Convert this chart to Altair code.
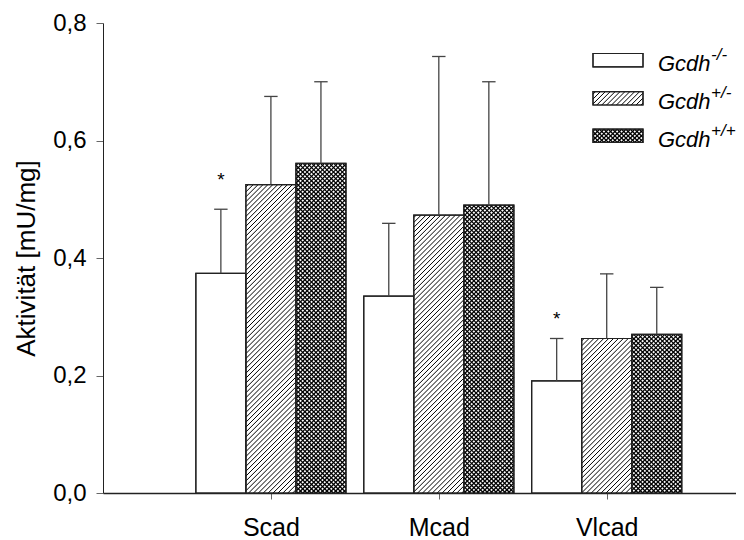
import altair as alt
import numpy as np
import pandas as pd

# ---------------- data ----------------
enzymes = ["Scad", "Mcad", "Vlcad"]
genotype_sup = ["-/-", "+/-", "+/+"]
mean_ko = [0.374, 0.335, 0.191]     # Gcdh-/-
mean_het = [0.525, 0.473, 0.263]    # Gcdh+/-
mean_wt = [0.561, 0.490, 0.270]     # Gcdh+/+
upper_ko = [0.483, 0.459, 0.263]    # upper end of error bars
upper_het = [0.675, 0.743, 0.373]
upper_wt = [0.700, 0.700, 0.350]
star_ko = [0.533, None, 0.297]      # "*" significance marks above Gcdh-/- bars
y_ticks = [0.0, 0.2, 0.4, 0.6, 0.8]

# ---------------- layout / style ----------------
PLOT_W, PLOT_H = 633, 470
X_MAX, Y_MAX = 3.77, 0.8
PX_X = PLOT_W / X_MAX
PX_Y = PLOT_H / Y_MAX
BAR_W = 0.298
CAP_HALF = 0.04
FONT = "Liberation Sans"
patterns = ["none", "diag", "cross"]
STEP = {"diag": 4.9, "cross": 4.4}


def hatch(width_px, height_px, kind):
    """Diagonal hatch segments inside a width x height box (y up, origin bottom-left)."""
    step = STEP[kind]
    fams = ["/"] if kind == "diag" else ["/", "\\"]
    segs = []
    for fam in fams:
        if fam == "/":
            for k in np.arange(-height_px + step / 2, width_px, step):
                xa, xb = max(0.0, k), min(width_px, k + height_px)
                if xb - xa > 0.2:
                    segs.append((xa, xa - k, xb, xb - k, kind))
        else:
            for k in np.arange(step / 2, width_px + height_px, step):
                xa, xb = max(0.0, k - height_px), min(width_px, k)
                if xb - xa > 0.2:
                    segs.append((xa, k - xa, xb, k - xb, kind))
    return segs


means = [mean_ko, mean_het, mean_wt]
uppers = [upper_ko, upper_het, upper_wt]
rows, hrows, srows = [], [], []
for gi, enz in enumerate(enzymes):
    center = gi + 1
    for si in range(3):
        xc = center + (si - 1) * BAR_W
        m, u = means[si][gi], uppers[si][gi]
        rows.append(dict(enzyme=enz, geno=genotype_sup[si], xc=xc,
                         x0=xc - BAR_W / 2, x1=xc + BAR_W / 2,
                         mean=m, upper=u, base=0.0,
                         cap0=xc - CAP_HALF, cap1=xc + CAP_HALF))
        if patterns[si] != "none":
            for (ax, ay, bx, by, kd) in hatch(BAR_W * PX_X, m * PX_Y, patterns[si]):
                hrows.append(dict(x0=xc - BAR_W / 2 + ax / PX_X, mean=ay / PX_Y,
                                  x1=xc - BAR_W / 2 + bx / PX_X, base=by / PX_Y, kind=kd))
    if star_ko[gi] is not None:
        srows.append(dict(x0=center - BAR_W, mean=star_ko[gi]))

bars = pd.DataFrame(rows)
hatch_df = pd.DataFrame(hrows)
stars = pd.DataFrame(srows)

# ---------------- legend (placed in pixel offsets, converted to data units) ----------------
def px_to_x(px):
    return px / PX_X


def px_to_y(py):
    return Y_MAX - py / PX_Y


LEG_X0, LEG_X1 = 490.0, 540.0
LEG_BOX_H = 13.3
leg_top = [30.5, 68.7, 106.2]
leg_rows, leg_h, leg_txt = [], [], []
for i, g in enumerate(genotype_sup):
    t = leg_top[i]
    leg_rows.append(dict(x0=px_to_x(LEG_X0), x1=px_to_x(LEG_X1),
                         mean=px_to_y(t), base=px_to_y(t + LEG_BOX_H)))
    if patterns[i] != "none":
        for (ax, ay, bx, by, kd) in hatch(LEG_X1 - LEG_X0, LEG_BOX_H, patterns[i]):
            leg_h.append(dict(x0=px_to_x(LEG_X0 + ax), mean=px_to_y(t + LEG_BOX_H - ay),
                              x1=px_to_x(LEG_X0 + bx), base=px_to_y(t + LEG_BOX_H - by),
                              kind=kd))
    b = t + LEG_BOX_H / 2 + 11
    leg_txt.append(dict(x0=px_to_x(555.0), mean=px_to_y(b), main="Gcdh",
                        sx=px_to_x(608.0), sy=px_to_y(b - 11), sup=g))
leg_box = pd.DataFrame(leg_rows)
leg_hatch = pd.DataFrame(leg_h)
leg_text = pd.DataFrame(leg_txt)

# ---------------- scales / axes ----------------
xscale = alt.Scale(domain=[0, X_MAX], nice=False, zero=False)
yscale = alt.Scale(domain=[0, Y_MAX], nice=False, zero=True)
label_expr_x = "[" + ",".join(f"'{e}'" for e in enzymes) + "][datum.value - 1]"

xaxis = alt.Axis(values=[1, 2, 3], labelExpr=label_expr_x, title=None, grid=False,
                 tickSize=6, tickColor="#666666", domainColor="#222222", domainWidth=1.5,
                 labelFontSize=25, labelFont=FONT, labelColor="black", labelPadding=16,
                 labelFlush=False, labelOverlap=False)
yaxis = alt.Axis(values=y_ticks, labelExpr="replace(format(datum.value, '.1f'), '.', ',')",
                 title="Aktivität [mU/mg]", titleFontSize=26, titleFont=FONT,
                 titleFontWeight="normal", titleColor="black", titlePadding=13,
                 grid=False, tickSize=7, tickColor="#666666", domainColor="#222222",
                 labelFontSize=24, labelFont=FONT, labelColor="black", labelPadding=10,
                 labelFlush=False, labelOverlap=False)


def X(field):
    return alt.X(field, type="quantitative", scale=xscale, axis=xaxis)


def Y(field):
    return alt.Y(field, type="quantitative", scale=yscale, axis=yaxis)


hatch_width = alt.StrokeWidth("kind:N", scale=alt.Scale(domain=["diag", "cross"], range=[1.0, 1.25]),
                              legend=None)

bar_layer = alt.Chart(bars).mark_rect(fill="white", stroke="#222222", strokeWidth=1.2).encode(
    x=X("x0"), x2="x1:Q", y=Y("mean"), y2="base:Q")

hatch_layer = alt.Chart(hatch_df).mark_rule(color="black").encode(
    x=X("x0"), x2="x1:Q", y=Y("mean"), y2="base:Q", strokeWidth=hatch_width)

outline_layer = alt.Chart(bars).mark_rect(fill="white", fillOpacity=0, stroke="#222222",
                                          strokeWidth=1.2).encode(
    x=X("x0"), x2="x1:Q", y=Y("mean"), y2="base:Q")

err_layer = alt.Chart(bars).mark_rule(color="#444444", strokeWidth=1.3).encode(
    x=X("xc"), y=Y("mean"), y2="upper:Q")

cap_layer = alt.Chart(bars).mark_rule(color="#444444", strokeWidth=1.3).encode(
    x=X("cap0"), x2="cap1:Q", y=Y("upper"))

star_layer = alt.Chart(stars).mark_text(text="*", fontSize=19, font=FONT, color="black",
                                        baseline="middle").encode(
    x=X("x0"), y=Y("mean"))

leg_fill = alt.Chart(leg_box).mark_rect(fill="white", stroke="#222222", strokeWidth=1.2).encode(
    x=X("x0"), x2="x1:Q", y=Y("mean"), y2="base:Q")
leg_hatch_layer = alt.Chart(leg_hatch).mark_rule(color="black").encode(
    x=X("x0"), x2="x1:Q", y=Y("mean"), y2="base:Q", strokeWidth=hatch_width)
leg_outline = alt.Chart(leg_box).mark_rect(fill="white", fillOpacity=0, stroke="#222222",
                                           strokeWidth=1.2).encode(
    x=X("x0"), x2="x1:Q", y=Y("mean"), y2="base:Q")
leg_main = alt.Chart(leg_text).mark_text(fontSize=22, font=FONT, fontStyle="italic", color="black",
                                         align="left", baseline="alphabetic").encode(
    x=X("x0"), y=Y("mean"), text="main:N")
leg_sup = alt.Chart(leg_text).mark_text(fontSize=17, font=FONT, fontStyle="italic", color="black",
                                        align="left", baseline="alphabetic").encode(
    x=X("sx"), y=Y("sy"), text="sup:N")

chart = alt.layer(
    bar_layer, hatch_layer, outline_layer, err_layer, cap_layer, star_layer,
    leg_fill, leg_hatch_layer, leg_outline, leg_main, leg_sup
).properties(
    width=PLOT_W, height=PLOT_H,
    padding={"left": 95, "top": 15, "right": 0, "bottom": 47},
    autosize=alt.AutoSizeParams(type="none"),
    background="white",
).configure_view(stroke=None)

chart.save("out.html", embed_options={"renderer": "svg", "actions": False})
